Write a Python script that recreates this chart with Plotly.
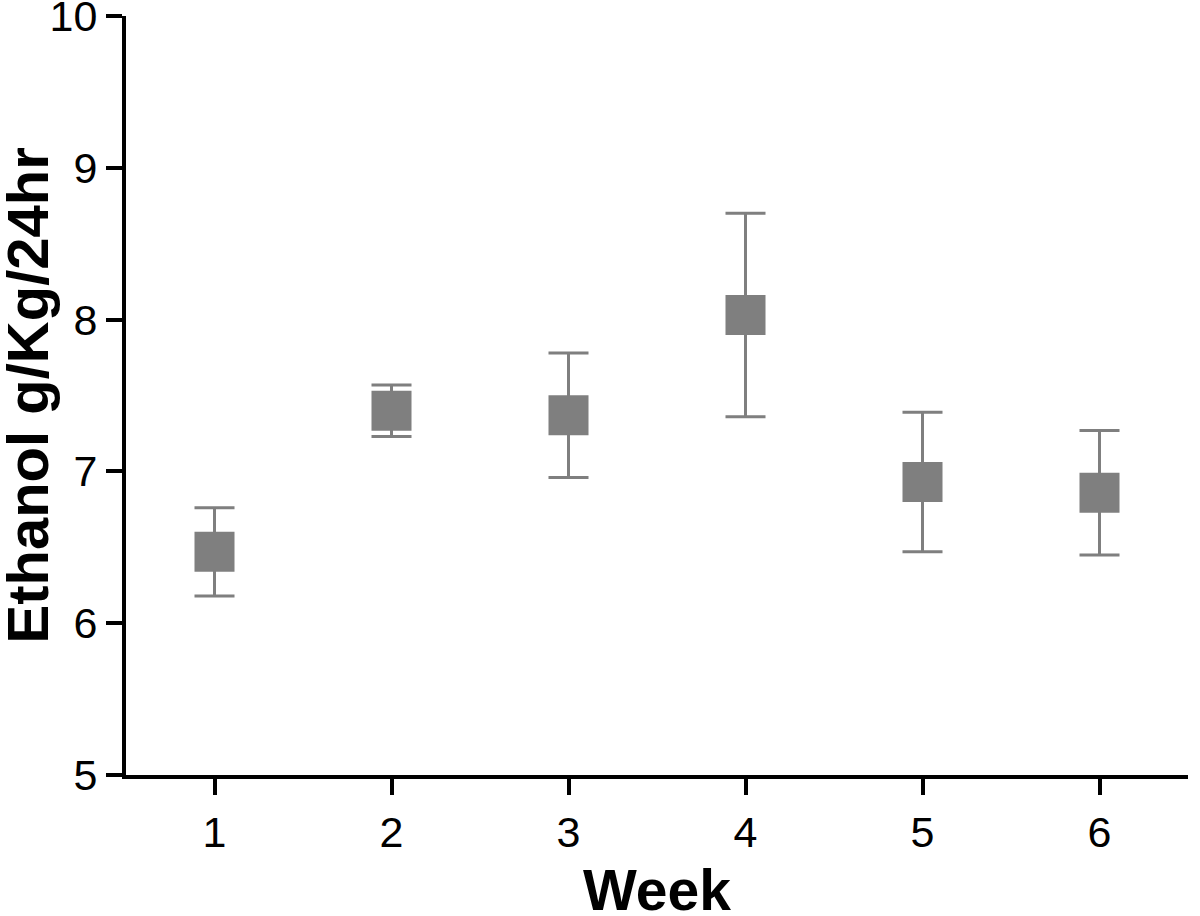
import plotly.graph_objects as go

weeks = [1, 2, 3, 4, 5, 6]
ethanol_mean = [6.47, 7.40, 7.37, 8.03, 6.93, 6.86]
ethanol_sem = [0.29, 0.17, 0.41, 0.67, 0.46, 0.41]
y_ticks = [5, 6, 7, 8, 9, 10]

gray = "#7f7f7f"

fig = go.Figure()
fig.add_trace(go.Scatter(
    x=weeks, y=ethanol_mean, mode="markers",
    marker=dict(symbol="square", size=40, color=gray, line=dict(width=0)),
    error_y=dict(type="data", array=ethanol_sem, visible=True,
                 color=gray, thickness=3, width=20),
    showlegend=False,
))

title_family = "Liberation Sans, Arial, sans-serif"
tick_family = "Liberation Sans Narrow, Arial Narrow, Liberation Sans, sans-serif"
L, R, T, B = 126, 12, 16, 141
W, H = 1200, 916
pw, ph = W - L - R, H - T - B

fig.update_layout(
    width=W, height=H,
    margin=dict(l=L, r=R, t=T, b=B),
    paper_bgcolor="white", plot_bgcolor="white",
    font=dict(family=title_family, color="black"),
    xaxis=dict(
        range=[0.5, 6.5], tickvals=weeks, ticktext=[str(w) for w in weeks],
        showgrid=False, zeroline=False, showline=True, linecolor="black", linewidth=4,
        ticks="outside", ticklen=16, tickwidth=4, tickcolor="black",
        tickfont=dict(size=43, family=tick_family),
        automargin=False, ticklabeloverflow="allow",
    ),
    yaxis=dict(
        range=[5, 10.0001], tickvals=y_ticks, ticktext=[str(v) for v in y_ticks],
        showgrid=False, zeroline=False, showline=True, linecolor="black", linewidth=4,
        ticks="outside", ticklen=16, tickwidth=4, tickcolor="black",
        tickfont=dict(size=43, family=tick_family),
        automargin=False, ticklabeloverflow="allow",
    ),
    annotations=[
        dict(text="<b>Week</b>", xref="paper", yref="paper",
             x=0.5, y=(775 - 890) / ph, xanchor="center", yanchor="middle",
             showarrow=False, font=dict(size=57, family=title_family, color="black")),
        dict(text="<b>Ethanol g/Kg/24hr</b>", xref="paper", yref="paper",
             x=(27 - L) / pw, y=0.5, xanchor="center", yanchor="middle", textangle=-90,
             showarrow=False, font=dict(size=58, family=title_family, color="black")),
    ],
)

fig.write_html("out.html", config={"displayModeBar": False},
               post_script="document.body.style.margin='0';")
